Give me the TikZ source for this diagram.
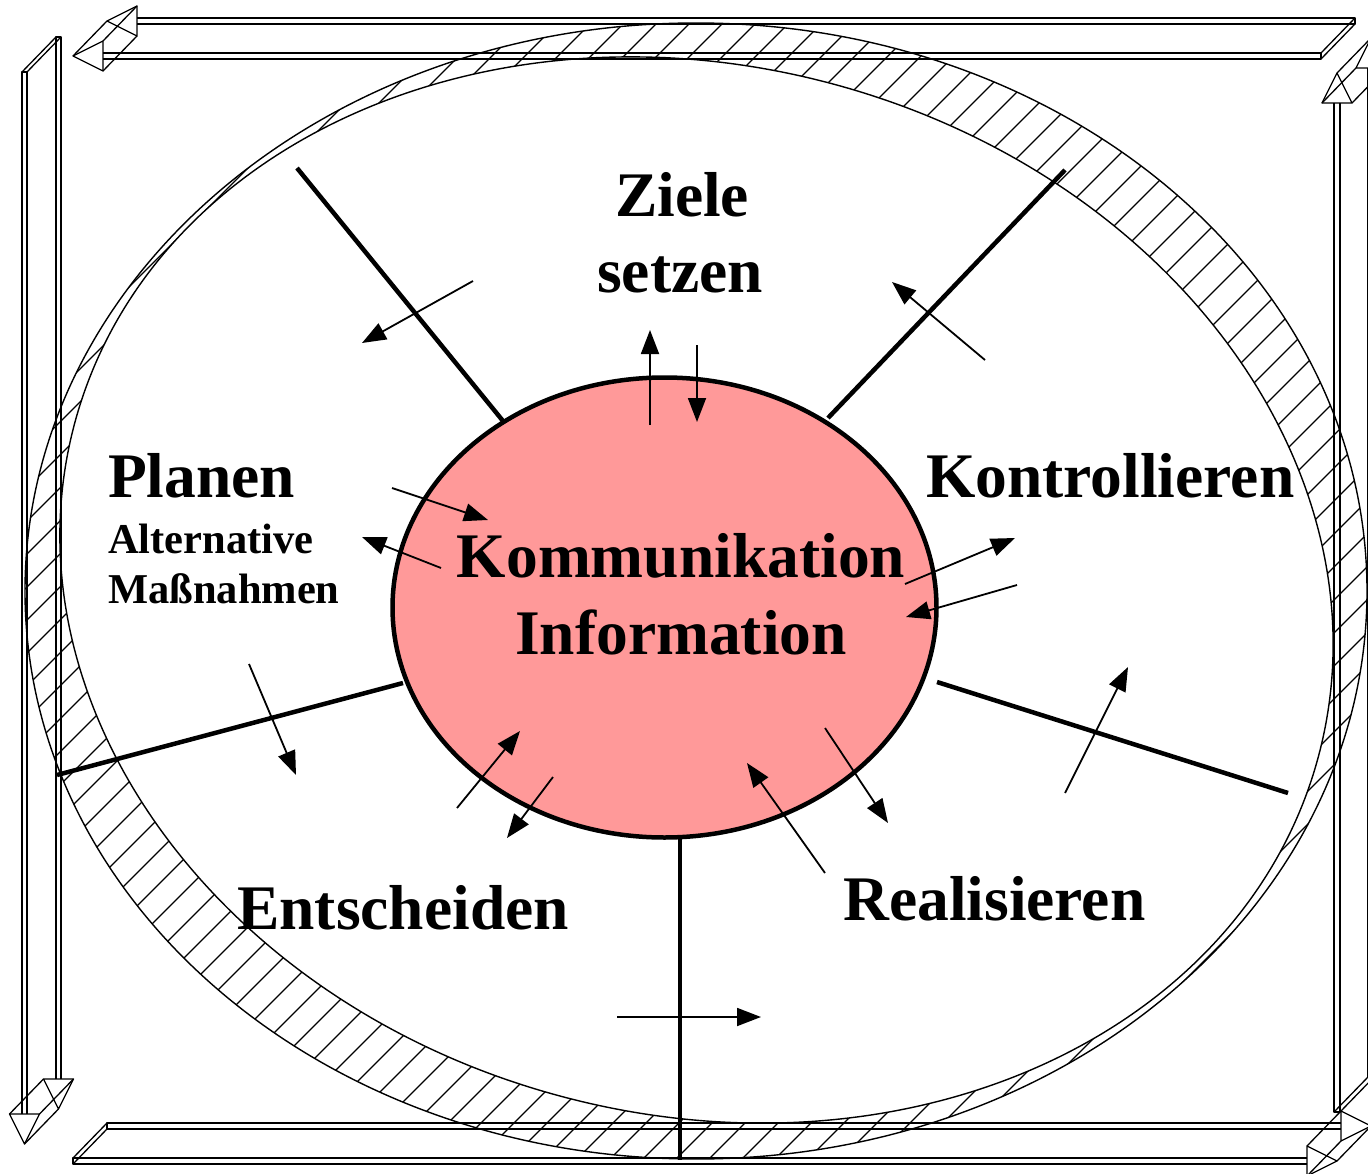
\documentclass[tikz,border=0pt]{standalone}
\usepackage{fontspec}
\setmainfont{Liberation Serif}
\usetikzlibrary{arrows.meta}
\definecolor{corefill}{RGB}{255,153,153}
\begin{document}
\begin{tikzpicture}[x=1pt,y=-1pt,
  plank/.style={line width=1.3pt, line join=round},
  ringline/.style={line width=1.4pt},
  hatch/.style={line width=1.1pt},
  spoke/.style={line width=4.5pt},
  arr/.style={line width=1.8pt, -{Triangle[length=24pt,width=18pt]}},
  big/.style={font=\bfseries\fontsize{63.5}{70}\selectfont, inner sep=0pt},
  small/.style={font=\bfseries\fontsize{42.5}{48}\selectfont, inner sep=0pt}]
\useasboundingbox (0,0) rectangle (1368,1174);
% hatched ring: hatch clipped to outer ellipse, inner (tilted) ellipse blanked
\begin{scope}
  \clip (696,591) ellipse [x radius=671, y radius=568];
  \foreach \i in {-1180,-1147,...,1340}
    \draw[hatch] (\i,1200) -- ++(1260,-1260);
\end{scope}
\begin{scope}[shift={(696.5,590)}, rotate=-15]
  \draw[ringline, fill=white] (0,0) ellipse [x radius=643.8, y radius=524.1];
\end{scope}
\draw[ringline] (696,591) ellipse [x radius=671, y radius=568];
% top plank (arrow pointing left)
\draw[plank] (103,53) -- (1321,53) -- (1321,59) -- (103,59);
\draw[plank] (137,18) -- (1355,18) -- (1355,24) -- (137,24);
\draw[plank] (1321,53) -- (1355,18) (1321,59) -- (1355,24);
\draw[plank] (73,56) -- (103,41) -- (103,71) -- cycle;
\draw[plank] (107,21) -- (137,6) -- (137,36) -- cycle;
\draw[plank] (73,56) -- (107,21) (103,41) -- (137,6) (103,71) -- (137,36);
% right plank (arrow pointing up)
\draw[plank] (1334,103) -- (1334,1112) -- (1340,1112) -- (1340,103);
\draw[plank] (1368,68) -- (1368,1077) -- (1374,1077) -- (1374,68);
\draw[plank] (1334,1112) -- (1368,1077) (1340,1112) -- (1374,1077);
\draw[plank] (1337,73) -- (1322,103) -- (1352,103) -- cycle;
\draw[plank] (1371,38) -- (1356,68) -- (1386,68) -- cycle;
\draw[plank] (1337,73) -- (1371,38) (1322,103) -- (1356,68) (1352,103) -- (1386,68);
% bottom plank (arrow pointing right)
\draw[plank] (1307,1158) -- (73,1158) -- (73,1164) -- (1307,1164);
\draw[plank] (1341,1123) -- (107,1123) -- (107,1129) -- (1341,1129);
\draw[plank] (73,1158) -- (107,1123) (73,1164) -- (107,1129);
\draw[plank] (1337,1161) -- (1307,1146) -- (1307,1176) -- cycle;
\draw[plank] (1371,1126) -- (1341,1111) -- (1341,1141) -- cycle;
\draw[plank] (1337,1161) -- (1371,1126) (1307,1146) -- (1341,1111) (1307,1176) -- (1341,1141);
% left plank (arrow pointing down)
\draw[plank] (22,1114) -- (22,72) -- (27,72) -- (27,1114);
\draw[plank] (56,1079) -- (56,37) -- (61,37) -- (61,1079);
\draw[plank] (22,72) -- (56,37) (27,72) -- (61,37);
\draw[plank] (24.5,1144) -- (9.5,1114) -- (39.5,1114) -- cycle;
\draw[plank] (58.5,1109) -- (43.5,1079) -- (73.5,1079) -- cycle;
\draw[plank] (24.5,1144) -- (58.5,1109) (9.5,1114) -- (43.5,1079) (39.5,1114) -- (73.5,1079);
% spokes
\draw[spoke] (503,421) -- (297,168);
\draw[spoke] (828,418) -- (1065,170);
\draw[spoke] (937,682) -- (1288,793);
\draw[spoke] (680,835) -- (680,1160);
\draw[spoke] (403,683) -- (57,775);
% core
\draw[line width=4.5pt, fill=corefill] (664.5,607.5) ellipse [x radius=272, y radius=230];
% arrows
\draw[arr] (473,281) -- (362,343);
\draw[arr] (650,425) -- (650,330);
\draw[arr] (697,345) -- (697,422);
\draw[arr] (985,360) -- (892,282);
\draw[arr] (392,488) -- (488,520);
\draw[arr] (441,568) -- (362,537);
\draw[arr] (905,584) -- (1015,538);
\draw[arr] (1017,585) -- (906,617);
\draw[arr] (249,664) -- (296,775);
\draw[arr] (1065,793) -- (1128,667);
\draw[arr] (457,808) -- (520,731);
\draw[arr] (553,777) -- (507,838);
\draw[arr] (825,728) -- (888,823);
\draw[arr] (825,873) -- (747,763);
\draw[arr] (617,1017) -- (761,1017);
% texts
\node[big, anchor=base] (ziele) at (682,217) {Ziele};
\node[big, anchor=base] (setzen) at (680,293) {setzen};
\node[big, anchor=base west] (planen) at (108,497) {Planen};
\node[small, anchor=base west] (alt) at (108,553) {Alternative};
\node[small, anchor=base west] (mass) at (108,603) {Maßnahmen};
\node[big, anchor=base west] (kontr) at (926,497) {Kontrollieren};
\node[big, anchor=base] (komm) at (681,577) {Kommunikation};
\node[big, anchor=base] (info) at (681,654) {Information};
\node[big, anchor=base west] (entsch) at (237,929) {Entscheiden};
\node[big, anchor=base west] (real) at (843,920) {Realisieren};
\end{tikzpicture}
\end{document}
